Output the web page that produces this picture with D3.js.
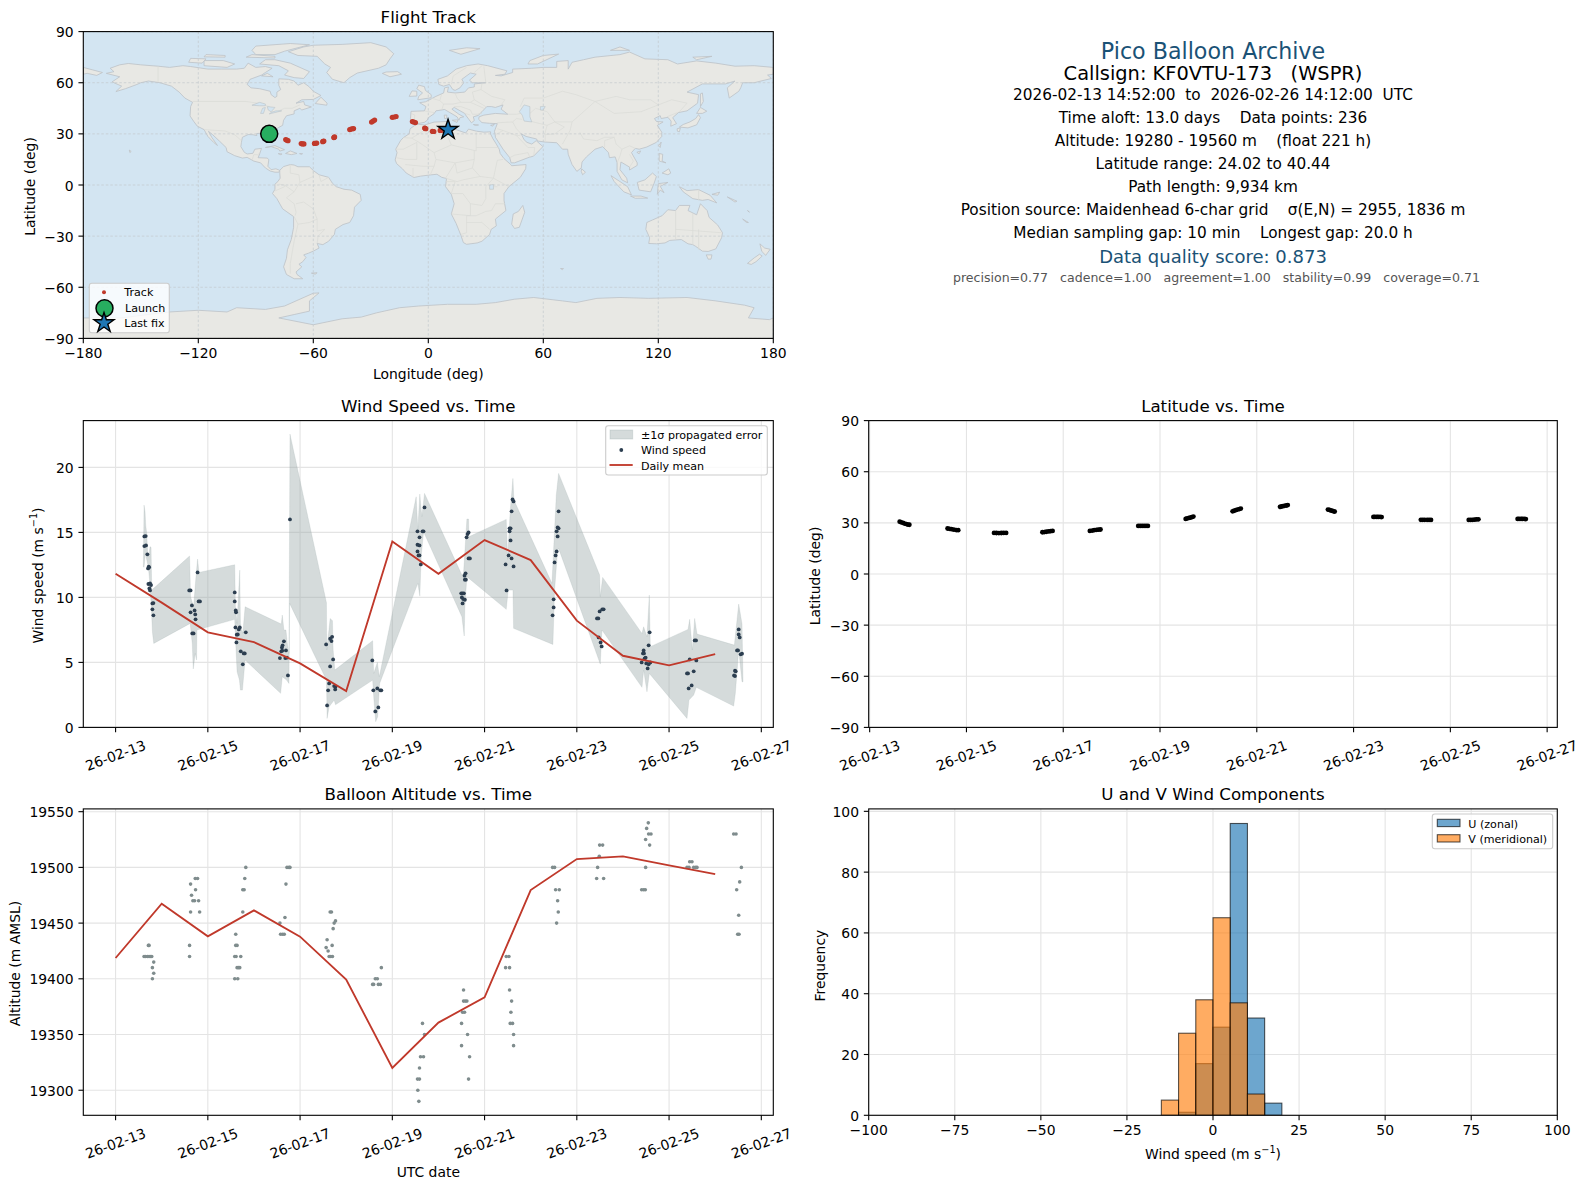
<!DOCTYPE html>
<html>
<head>
<meta charset="utf-8">
<script src="https://cdn.jsdelivr.net/npm/d3@7"></script>
<style>
  html, body { margin: 0; padding: 0; background: #fff; }
  svg { display: block; font-family: "DejaVu Sans", sans-serif; }
  text { fill: #000; }
</style>
</head>
<body>
<svg id="fig" width="1587" height="1189"></svg>
<script>
// ---- flight track (lon, lat)
const trackPoints = [[-74.4,26.7],[-73.8,26.3],[-73.2,26],
  [-66.3,24.3],[-65.6,24.1],[-64.9,24.1],[-59.4,24.4],[-58.8,24.5],[-58.2,24.6],
  [-55.1,25.4],[-54.8,25.6],[-54.5,25.8],[-49.3,27.8],[-49.1,28],[-48.9,28.2],
  [-41,32.5],[-40.3,32.8],[-39.6,33],[-39,33.1],[-29.6,36.9],[-28.8,37.5],[-28,38.1],
  [-18.8,39.7],[-17.8,39.9],[-16.8,40.2],[-8.3,37.2],[-7.5,36.9],[-6.7,36.6],
  [-1.9,33.4],[-1.6,33.2],[-1.3,33],[2.1,31.5],[2.5,31.4],[2.9,31.4],[6.2,32],[6.5,32],[6.8,32.1]];
const launchPoint = [-83, 30];
const lastFixPoint = [10.3, 32.4];

// ---- wind speed scatter (days since 26-02-13 00:00, m/s)
const windPoints = [
  [.624,14.69],[.653,14.72],[.624,13.95],[.660,14.0],[.689,13.31],[.718,12.36],[.704,12.23],[.726,12.31],[.711,11.03],[.747,11.08],[.769,10.95],[.733,10.69],[.747,10.54],[.798,9.54],[.820,9.56],[.798,9.08],[.820,8.62],
  [1.597,10.54],[1.626,10.54],[1.655,9.38],[1.626,8.85],[1.713,9.0],[1.727,8.69],[1.734,8.31],[1.662,7.23],[1.691,7.23],[1.778,11.92],[1.80,9.69],[1.829,9.69],
  [2.583,10.38],[2.583,9.69],[2.605,9.0],[2.612,8.85],[2.598,7.69],[2.692,7.69],[2.671,7.54],[2.627,7.13],[2.649,7.15],[2.62,6.54],[2.714,5.85],[2.779,5.69],[2.801,5.69],[2.758,4.85],[2.823,7.31],
  [3.650,6.62],[3.621,6.31],[3.607,6.15],[3.592,5.85],[3.614,5.90],[3.694,5.92],[3.563,5.33],[3.679,5.33],[3.716,5.36],[3.737,4.0],[3.781,16.0],
  [4.565,6.38],[4.652,6.82],[4.695,6.97],[4.681,6.64],[4.717,5.23],[4.652,4.69],[4.630,3.38],[4.608,2.85],[4.586,1.69],[4.739,3.18],[4.768,3.13],[4.761,2.92],
  [5.566,5.15],[5.588,2.85],[5.675,3.0],[5.740,2.85],[5.762,2.85],[5.697,1.54],[5.631,1.23],
  [6.546,15.08],[6.654,15.08],[6.676,15.08],[6.589,14.62],[6.546,14.05],[6.589,14.0],[6.546,13.54],[6.567,13.23],[6.589,13.23],[6.618,12.54],[6.698,16.92],
  [7.494,10.31],[7.523,10.31],[7.552,10.31],[7.508,10.0],[7.537,9.87],[7.573,9.82],[7.523,9.54],[7.573,11.36],[7.595,11.36],[7.566,11.67],[7.588,11.85],[7.610,14.62],[7.631,14.87],[7.653,15.0],[7.653,13.0],[7.682,13.0],
  [8.477,10.54],[8.456,12.54],[8.521,13.23],[8.586,13.0],[8.629,12.38],[8.564,14.38],[8.542,15.08],[8.542,15.31],[8.564,15.31],[8.586,16.62],[8.607,17.54],[8.629,17.38],
  [9.497,9.85],[9.497,9.23],[9.475,8.62],[9.518,12.69],[9.540,13.23],[9.562,13.54],[9.584,14.69],[9.562,15.08],[9.584,15.38],[9.605,15.31],[9.605,16.62],
  [10.437,8.38],[10.466,8.38],[10.495,8.92],[10.552,9.08],[10.581,9.08],[10.473,6.92],[10.516,6.54],[10.538,6.23],
  [11.406,5.0],[11.435,5.69],[11.456,5.69],[11.449,5.92],[11.492,5.36],[11.471,5.31],[11.507,4.92],[11.557,4.85],[11.536,4.54],[11.594,5.0],[11.557,6.31],[11.579,7.31],
  [12.389,4.15],[12.411,4.15],[12.447,5.23],[12.534,4.31],[12.591,5.15],[12.490,3.23],[12.425,3.0],[12.555,6.69],[12.584,6.69],
  [13.510,7.54],[13.510,7.15],[13.531,6.92],[13.474,5.92],[13.495,5.92],[13.553,5.62],[13.582,5.67],[13.430,4.36],[13.445,4.31],[13.409,4.0],[13.430,3.95]];

// ---- propagated error band, edges read separately
const bandUpper = [[.602,12.36],[.617,17.10],[.639,16.59],[.653,15.56],[.675,14.92],[.697,13.38],[.718,13.13],[.747,13.90],[.769,13.85],[.784,10.56],
  [1.604,13.18],[1.626,10.05],[1.691,9.28],[1.749,11.85],[1.778,12.95],[1.807,11.92],[2.583,12.51],[2.598,9.28],[2.634,8.0],[2.692,12.10],[2.707,8.0],[2.758,7.23],[2.808,9.28],
  [3.592,7.95],[3.614,8.64],[3.650,7.49],[3.694,7.49],[3.723,6.46],[3.759,5.69],[3.781,22.56],[4.572,9.59],[4.579,5.95],[4.652,8.38],[4.702,8.21],[4.717,5.95],[4.753,4.41],
  [5.573,6.67],[5.595,4.15],[5.675,5.0],[5.718,3.90],[6.517,17.74],[6.553,15.18],[6.596,17.95],[6.640,16.21],[6.698,18.0],
  [7.508,11.72],[7.544,11.85],[7.617,16.03],[7.653,16.03],[7.66,14.67],[8.470,16.0],[8.499,12.92],[8.557,16.72],[8.615,19.15],[8.636,17.49],
  [9.461,11.08],[9.555,17.87],[9.605,19.54],[10.495,11.72],[10.509,10.05],[10.560,11.54],[11.413,7.23],[11.449,7.74],[11.521,6.97],[11.572,10.18],[11.594,6.21],
  [12.411,7.54],[12.447,8.31],[12.505,5.95],[12.555,8.38],[12.606,7.18],[13.416,6.33],[13.510,9.49],[13.582,7.95],[13.604,3.51]];
const bandLower = [[.602,12.36],[.617,12.31],[.646,13.38],[.711,12.31],[.747,10.95],[.776,9.15],[.798,7.36],[.827,6.46],
  [1.618,8.0],[1.662,6.46],[1.684,4.49],[1.727,5.69],[1.756,5.18],[1.763,7.49],[2.583,8.31],[2.605,6.46],[2.634,4.28],[2.685,3.64],[2.707,2.87],[2.750,2.87],[2.808,5.18],
  [3.578,2.62],[3.614,3.90],[3.708,3.64],[3.759,3.38],[3.774,9.54],[4.572,3.64],[4.586,.69],[4.630,1.59],[4.739,2.10],[4.768,1.74],
  [5.573,3.64],[5.602,2.10],[5.639,.44],[5.682,.82],[5.725,3.38],[6.553,11.08],[6.596,10.10],[6.626,13.13],[6.677,15.05],
  [7.508,8.51],[7.559,7.03],[7.573,9.28],[7.617,11.59],[8.470,9.08],[8.513,10.56],[8.615,10.56],[8.629,7.62],[9.482,6.38],[9.518,10.56],[9.584,13.64],[9.605,13.77],
  [10.509,4.87],[10.545,7.49],[11.413,3.08],[11.449,4.41],[11.521,2.74],[11.572,4.15],[12.389,.69],[12.432,2.10],[12.534,2.49],[12.591,3.08],
  [13.401,1.64],[13.437,2.62],[13.510,5.95],[13.582,3.51],[13.604,3.51]];

const meanDays = [0,1,2,3,4,5,6,7,8,9,10,11,12,13];
const windDaily = [11.82,9.6,7.31,6.56,4.92,2.79,14.31,11.82,14.41,12.87,8.21,5.51,4.77,5.64];
const altDaily = [19418.7,19467.4,19438.1,19461.4,19437.8,19399.3,19320,19360.7,19383.4,19479.7,19507.5,19509.9,19501.8,19494];

// ---- latitude vs time
const latPoints = [
  [.62,30.7],[.65,30.3],[.69,30],[.72,29.6],[.76,29.3],[.79,29],[.82,28.9],
  [1.61,26.7],[1.65,26.5],[1.69,26.3],[1.74,26],[1.79,25.8],[1.83,25.7],
  [2.57,24.1],[2.62,24.05],[2.67,24.02],[2.72,24.05],[2.77,24.1],[2.82,24.1],
  [3.57,24.5],[3.61,24.6],[3.65,24.8],[3.7,25],[3.74,25.1],[3.78,25.3],
  [4.55,25.3],[4.6,25.5],[4.64,25.7],[4.69,25.9],[4.73,26],[4.77,26.1],
  [5.55,28.2],[5.59,28.2],[5.63,28.2],[5.67,28.2],[5.71,28.2],[5.75,28.2],
  [6.53,32.3],[6.56,32.6],[6.6,32.9],[6.63,33.1],[6.66,33.4],[6.69,33.7],
  [7.5,36.8],[7.53,37.1],[7.57,37.5],[7.6,37.8],[7.64,38.1],[7.67,38.4],
  [8.48,39.4],[8.51,39.6],[8.54,39.8],[8.57,40],[8.61,40.2],[8.64,40.44],
  [9.47,37.8],[9.5,37.6],[9.53,37.3],[9.56,37],[9.59,36.8],[9.61,36.6],
  [10.41,33.5],[10.44,33.5],[10.48,33.5],[10.51,33.5],[10.55,33.5],[10.58,33.4],
  [11.39,31.8],[11.43,31.8],[11.47,31.8],[11.52,31.8],[11.56,31.8],[11.6,31.7],
  [12.38,31.7],[12.42,31.7],[12.46,31.8],[12.5,31.9],[12.54,32],[12.58,32.1],
  [13.39,32.3],[13.42,32.3],[13.46,32.3],[13.49,32.3],[13.53,32.3],[13.56,32.2]];

// ---- altitude vs time (days, m)
const altPoints = [
  [.726,19430],[.711,19430],[.617,19420],[.653,19420],[.689,19420],[.726,19420],[.762,19420],[.784,19420],[.827,19415],[.798,19410],[.827,19405],[.798,19400],
  [1.604,19430],[1.604,19420],[1.626,19485],[1.647,19475],[1.626,19460],[1.734,19480],[1.676,19470],[1.713,19470],[1.80,19470],[1.727,19490],[1.778,19490],[1.822,19460],
  [2.605,19440],[2.605,19430],[2.634,19430],[2.583,19420],[2.612,19420],[2.714,19420],[2.634,19410],[2.663,19410],[2.692,19410],[2.583,19400],[2.649,19400],[2.758,19460],[2.758,19480],[2.787,19480],[2.801,19490],[2.823,19500],
  [3.563,19450],[3.578,19440],[3.621,19440],[3.657,19440],[3.672,19455],[3.694,19485],[3.716,19500],[3.759,19500],[3.781,19500],
  [4.586,19435],[4.565,19428],[4.608,19425],[4.695,19430],[4.63,19420],[4.666,19420],[4.702,19420],[4.717,19445],[4.739,19450],[4.768,19452],[4.652,19460],[4.681,19460],
  [5.762,19410],[5.631,19400],[5.675,19400],[5.573,19395],[5.595,19395],[5.697,19395],[5.740,19395],
  [6.654,19360],[6.698,19350],[6.611,19330],[6.676,19330],[6.589,19320],[6.546,19310],[6.589,19310],[6.553,19300],[6.575,19290],
  [7.544,19390],[7.544,19380],[7.581,19380],[7.617,19380],[7.523,19370],[7.566,19370],[7.501,19360],[7.631,19350],[7.501,19340],[7.675,19330],[7.653,19310],
  [8.470,19420],[8.528,19420],[8.456,19410],[8.542,19410],[8.542,19390],[8.586,19380],[8.571,19370],[8.557,19360],[8.607,19360],[8.629,19350],[8.629,19340],
  [9.475,19500],[9.518,19500],[9.54,19480],[9.62,19480],[9.584,19470],[9.598,19460],[9.562,19450],
  [10.495,19520],[10.56,19520],[10.487,19510],[10.451,19500],[10.43,19490],[10.581,19490],
  [11.55,19540],[11.514,19535],[11.557,19530],[11.608,19530],[11.492,19525],[11.579,19520],[11.492,19500],[11.406,19480],[11.449,19480],[11.485,19480],
  [12.447,19505],[12.497,19505],[12.389,19500],[12.432,19500],[12.534,19500],[12.577,19500],[12.606,19500],
  [13.401,19530],[13.452,19530],[13.568,19500],[13.531,19487],[13.466,19480],[13.510,19457],[13.488,19440],[13.517,19440]];

// ---- U / V histogram (bin start, count), 5 m/s bins
const binWidth = 5;
const uBins = [[-10,1],[-5,17],[0,29],[5,96],[10,32],[15,4]];
const vBins = [[-15,5],[-10,27],[-5,38],[0,65],[5,37],[10,7]];

// ---- axis ticks and text
const dateTicks = ['2026-02-13','2026-02-15','2026-02-17','2026-02-19','2026-02-21','2026-02-23','2026-02-25','2026-02-27'];
const lonTicks = [-180,-120,-60,0,60,120,180];
const latTicks = [-90,-60,-30,0,30,60,90];
const windTicks = [0,5,10,15,20];
const altTicks = [19300,19350,19400,19450,19500,19550];
const histXTicks = [-100,-75,-50,-25,0,25,50,75,100];
const histYTicks = [0,20,40,60,80,100];
const infoLines = [
  'Pico Balloon Archive',
  'Callsign: KF0VTU-173   (WSPR)',
  '2026-02-13 14:52:00  to  2026-02-26 14:12:00  UTC',
  'Time aloft: 13.0 days    Data points: 236',
  'Altitude: 19280 - 19560 m    (float 221 h)',
  'Latitude range: 24.02 to 40.44',
  'Path length: 9,934 km',
  'Position source: Maidenhead 6-char grid    σ(E,N) = 2955, 1836 m',
  'Median sampling gap: 10 min    Longest gap: 20.0 h',
  'Data quality score: 0.873',
  'precision=0.77   cadence=1.00   agreement=1.00   stability=0.99   coverage=0.71'
];

// ---- base map outlines (lon, lat)
const landAreas = [
  // North America
  [[-168,65.5],[-164,66.5],[-166,68.5],[-161,70.5],[-156.5,71.3],[-150,70.5],[-141,69.7],[-135,69],[-128,70],[-124,69.5],[-115,68],[-108,68],[-100,68],[-96,68.5],[-94,71.5],[-90,69],[-85,69.5],[-81.5,68.5],[-85,66],[-87,64.5],[-93,62],[-94.5,59],[-92.5,57],[-88,56.5],[-82.5,55],[-82,53],[-80,51.3],[-79,52],[-79,54.5],[-77,56],[-78,58.5],[-78,62.3],[-73,62],[-70,61],[-68,58.5],[-65,60],[-62,57.5],[-60,55],[-56,52.5],[-60,50.2],[-66,50],[-69,48],[-65,49],[-64.5,47],[-61,45.8],[-66,44],[-67,45],[-70,43.5],[-70,41.7],[-74,40.6],[-75.5,38],[-76,35],[-78,33.8],[-81,31.5],[-81.2,29.5],[-80,26.8],[-80.5,25.2],[-81.8,26],[-82.8,28],[-84,30],[-86,30.4],[-89.5,30.2],[-89.5,29],[-91.5,29.5],[-94,29.6],[-97,28],[-97.5,25],[-97.8,22.5],[-96,19.2],[-94.5,18.2],[-91.5,18.6],[-90.5,21],[-87,21.5],[-88,18.2],[-88.8,16],[-84,15.8],[-83.2,14.8],[-83.7,11],[-82,9],[-79.5,9.5],[-77.5,8.6],[-78,7.5],[-80,7.5],[-82.5,8.2],[-85,10],[-87.5,13],[-91,14],[-94.5,16.2],[-97,15.8],[-101,17.2],[-105,19.5],[-105.5,22],[-109,25.8],[-112.5,29.5],[-114.7,31.5],[-113,28],[-110,23.2],[-112,25],[-115,28.5],[-117,32.5],[-120.5,34.5],[-122.5,37.5],[-124.3,40.5],[-124,46],[-123,48.5],[-127,51],[-130,54.5],[-134,58],[-140,60],[-146,61],[-150,60],[-152,59],[-158,56.5],[-163,54.8],[-160,58],[-165,60.5],[-161,63.5]],
  // Arctic Canada
  [[-80,73.5],[-72,71.5],[-67,69],[-62,66.5],[-65,62.5],[-70,63],[-75,64.5],[-73,67],[-78,70],[-88,71],[-85,73.5]],
  [[-117,70],[-105,69],[-101,71],[-107,73],[-117,73]],
  [[-125,72],[-118,71.5],[-116,74],[-124,74.3]],
  [[-90,76.5],[-80,76.5],[-75,78.5],[-62,82.3],[-72,83],[-90,81.5],[-92,79]],
  [[-95,75],[-80,74.5],[-80,75.5],[-92,76.5]],
  [[-117,75.2],[-106,75],[-106,76],[-116,76.5]],
  [[-87,64],[-81,63.5],[-84,65.5]],
  [[-59,47.8],[-53,46.8],[-52.8,48],[-56,51.5]],
  // Caribbean and Pacific islands
  [[-85,22],[-80,23.1],[-75,20.7],[-77.5,19.9],[-78,21],[-82,22.5]],
  [[-74.5,18.5],[-72,20],[-68.5,18.5],[-71.5,17.8]],
  [[-78.3,18.4],[-76.3,18.2],[-77,17.8]],
  [[-67.2,18.4],[-65.6,18.4],[-66,18]],
  [[-156,20.5],[-155,19.7],[-155.7,19]],
  // Greenland, Iceland
  [[-73,78.2],[-68,76],[-58,75.5],[-54,71],[-51,69],[-53,66],[-50,62],[-44,60],[-41,63],[-37,65.7],[-26,68.5],[-22,70.5],[-20,74],[-18,77],[-22,81],[-30,83.5],[-45,82.5],[-60,82],[-65,81]],
  [[-24,65.5],[-20,63.5],[-14,65],[-16,66.5],[-22,66.3]],
  // South America
  [[-77.5,8.6],[-75.5,10.8],[-72,12],[-70,11.7],[-68,10.7],[-62,10.7],[-60,8.5],[-57,6],[-52,4.5],[-50,1],[-48,-1],[-44,-2.5],[-40,-3],[-35.5,-5.5],[-35,-9],[-38.5,-13],[-39,-18],[-41,-22],[-44.5,-23.2],[-48.5,-26],[-49,-29],[-52,-33],[-55,-35],[-58,-34.3],[-57,-37],[-60,-38.8],[-62.5,-40],[-65,-41],[-63.8,-42.5],[-65.5,-45],[-67.5,-46.5],[-66,-48],[-69,-51],[-68.5,-52.5],[-65.5,-55],[-70,-55],[-74,-52.5],[-75.5,-48],[-74,-43],[-73.5,-38],[-71.5,-32],[-70.3,-25],[-70.3,-18.5],[-76,-14],[-79,-8],[-81.3,-5],[-80,-2.5],[-80,0.5],[-78.5,2],[-77.3,4],[-77.5,7]],
  [[-61,-51.7],[-58,-51.5],[-59,-52.3]],
  // Africa
  [[-6,35.8],[-2,35.2],[3,36.9],[10,37.3],[11,33.5],[15,32.3],[19.5,30.5],[21,32.8],[25,31.6],[29,31],[32.5,31.2],[32.5,29.9],[33.8,27],[35.5,24],[37,21],[37.5,18.5],[39.5,15.5],[43,12],[43.5,11.3],[51,12],[50.8,9.5],[48,4.5],[42,-1],[39.5,-5],[39.5,-9],[40.5,-15],[35,-20],[35.5,-24],[32.8,-26],[32,-29],[28,-33],[25.5,-34],[20,-34.8],[18.3,-33.8],[17,-29.5],[14.5,-22.5],[12,-17],[13.5,-11],[12,-5.5],[9,-1],[9.5,3.8],[7,4.5],[4.5,6.3],[1,5.9],[-4,5.2],[-7.5,4.4],[-11.5,7],[-13.5,9.5],[-16.5,12.5],[-17.3,14.7],[-16.3,19],[-17,21],[-14.5,26],[-13,27.8],[-10,30],[-9.5,33]],
  [[49.3,-12],[50.3,-16],[47.5,-24.8],[45,-25.5],[43.5,-23],[44.3,-17],[47,-15.5]],
  // Eurasia
  [[-9,37],[-9.3,39],[-9,43.2],[-2,43.5],[-1.2,46],[-4.5,48.3],[-1.5,48.8],[1.5,50.5],[4,52],[8,54],[8.5,57],[10.5,57.5],[10,54.5],[14,54],[19,54.5],[21,57],[24,57.5],[24,59.3],[30,60],[23,60],[21.5,61.5],[25,65],[22,65.7],[17.5,62],[18.5,60],[16.5,57],[14,55.5],[12.8,56],[11,59],[8,58],[5.5,59],[5,62],[10,64],[14.5,68],[20,70],[26,71],[31,70],[41,67],[40,65],[35,64.3],[38,64],[44,66],[44,68],[54,68.5],[60,69],[67,69],[67,72.5],[73,73],[73,68],[75,72],[81,73.5],[87,75],[100,76.5],[105,78],[113,74],[125,73.5],[130,71],[140,72.8],[150,71.5],[160,69.7],[170,70],[180,69],[180,65],[177,64.5],[179,62.5],[170,60],[164,60],[163,57],[162,55],[157,51],[156,57],[160,61],[155,59.3],[143,59.3],[135,54.5],[141,53],[140.5,48],[135,43.5],[130.5,42.5],[127.5,39.5],[129.5,36],[126.5,34.5],[126.7,37.5],[125,39.7],[121.5,39],[121,40.7],[118,39],[119,37.3],[122.5,37],[119.5,35],[121.8,31],[121.8,28.5],[119,25],[114,22.3],[110,21],[108,21.5],[106,19],[109,13],[109,11.5],[105,8.8],[105,10.5],[100.5,13.5],[100,9],[103.5,4],[104,1.3],[101,3],[98.5,8],[98.5,13],[97.5,16.5],[94.5,16],[94,19],[91,22.5],[87,21],[82.5,16.5],[80.2,13.5],[79.8,10],[77.5,8],[75,12],[73,18],[72.7,21],[70,21],[67,24.8],[61,25.2],[57,25.8],[56.5,27],[51,28.5],[48.5,30],[50,26.5],[51.5,25],[54,24],[56.3,26],[59.8,22.5],[55,17],[52,16],[45,13],[43.2,13],[42.5,16],[39,21],[35,28],[34.9,29.5],[34.5,31.5],[36,36],[32,36.2],[28,36.6],[26.3,38.5],[26.5,40],[29,41],[35,42],[41.5,41.5],[38,44.5],[39,47],[35,45.5],[33,46],[30.5,46],[28,43],[26,40.8],[23.5,40],[24,37.8],[22.5,36.5],[19.5,41],[19,42],[13.5,45.5],[12.3,44.5],[16,41.5],[18.5,40],[16.5,39.5],[16,38],[15,40],[10.5,43],[8.5,44.3],[4,43.5],[3,41.8],[0,39.5],[-0.5,38],[-2,36.8],[-5.5,36]],
  [[-180,69],[-175,67.5],[-170,66],[-173,64.3],[-178,65.5],[-180,65]],
  // European and Arctic islands
  [[-5.5,50],[1.5,51.2],[1.5,53],[-1.5,55.5],[-2,57.7],[-5,58.6],[-6,56.5],[-3,54],[-5,52]],
  [[-10,52],[-6,52.2],[-6,55],[-8.5,55.2]],
  [[11,79],[20,80.5],[27,80],[17,76.7]],
  [[52,71],[57,71],[68,76.8],[60,76],[53,73]],
  [[95,79],[105,79],[100,81]],
  [[138,75],[148,75.5],[140,73.5]],
  [[8.3,41],[9.7,41],[9.5,39],[8.5,39]],
  [[12.5,38],[15.5,38.2],[15,36.7]],
  [[23.5,35.5],[26.2,35.2],[24.5,35]],
  [[32.5,35],[34.5,35.6],[33.5,34.6]],
  // East and South-East Asia
  [[131,34],[135.5,33.5],[140,35.3],[142,39.5],[141,41.3],[139.5,39],[136.5,37],[133,35.5]],
  [[140,42],[143,42],[145.3,43.3],[142,45.5]],
  [[129.8,33],[131.5,33.5],[131,31.2],[130,31.5]],
  [[142,46],[143.5,49],[143,54],[142,53.5],[142,48]],
  [[120.2,23],[121.5,25.2],[121,22]],
  [[108.8,19.2],[110.8,20],[110,18.3]],
  [[80,9.5],[82,7.5],[80.5,6],[79.8,8]],
  [[120.5,18.5],[122.3,18],[122,14],[124,13],[120.5,14]],
  [[122,7],[125.5,9.5],[126.5,7],[125,6]],
  [[109,1.5],[113,3],[117,7],[119,5],[117.8,1],[116,-4],[110,-3]],
  [[95.3,5.5],[100,2],[104,-1],[106,-5.8],[102,-4],[97,2]],
  [[105.5,-6.5],[111,-6.5],[114.5,-7.7],[108,-7.8]],
  [[119.5,-5.5],[120,0.8],[125,1.5],[121,-0.8],[123,-4.5],[121,-3]],
  [[131,-1],[135,-3.3],[141,-2.7],[147,-6],[150.5,-10.5],[146,-8.5],[143,-9],[138,-8],[133,-4]],
  [[148,-5.5],[152,-4.2],[151,-6]],
  [[156,-7],[161,-9.5],[160,-10]],
  [[166.5,-15],[167.5,-16],[167,-15.2]],
  [[164,-20],[167,-22],[166,-22]],
  // Australia and New Zealand
  [[114,-22],[117,-20.5],[122,-18],[125,-14.5],[129,-15],[131,-12],[136.5,-12],[135.5,-15],[140,-17.5],[142,-11],[145.5,-15],[146.5,-19],[151,-23.5],[153.5,-28],[153,-31],[150,-37.5],[146,-39],[143,-38.8],[139.5,-36],[138,-35],[135.5,-34.5],[132,-32],[126,-32.5],[123.5,-34],[119,-34.5],[115,-34.3],[115.5,-31],[113.5,-26]],
  [[145,-41],[148,-41],[147.5,-43.5],[146,-43.5]],
  [[173,-34.5],[175.5,-37],[178.4,-37.7],[176,-41.3],[175,-40],[174,-39]],
  [[172.8,-40.6],[174.2,-41.7],[171,-45],[168.5,-46.6],[166.5,-46],[170,-42.8]],
  [[69,-49],[70.5,-49],[70,-49.7]],
  // Antarctica
  [[-180,-90],[-180,-78],[-160,-78],[-150,-76.5],[-135,-74.5],[-120,-73.5],[-105,-74.5],[-100,-72],[-85,-73],[-75,-71],[-68,-67.5],[-60,-63.5],[-57,-63.3],[-62,-68],[-62,-74],[-70,-76],[-78,-78],[-60,-82],[-45,-78.5],[-35,-77.5],[-27,-75],[-15,-72],[-5,-71],[10,-70],[25,-70],[35,-69],[45,-67],[55,-66],[70,-68],[77,-69],[88,-66.5],[100,-66],[115,-66.5],[135,-66],[150,-68],[165,-70.5],[170,-72],[167,-78],[178,-79],[180,-78],[180,-90]]
];
const inlandWater = [
  [[50,47],[53,46],[53,40],[54,37],[50,37.5],[49,41],[47.5,43]],
  [[-92,46.8],[-88,48.5],[-85,47.5],[-85,46.5],[-88,46.5]],
  [[-87.5,42],[-86.5,45],[-85,45.5],[-86,42]],
  [[-84,46],[-80,45.5],[-82,43],[-83.5,44]],
  [[-83,41.7],[-79,42.8],[-76.5,43.5],[-79.5,43.5],[-82,42.5]],
  [[32,0],[34,0.3],[34,-2.5],[32,-2.5]],
  [[58.5,46],[61,46],[60,44],[58.5,44]]
];
const borderLines = [
  [[-123,49],[-95,49],[-89,48],[-83,46],[-82,43],[-79,43],[-75,45],[-71,45],[-67,47]],
  [[-141,60.3],[-141,69.7]],[[-117,32.5],[-106,31.7],[-101,29.5],[-97.5,26]],
  [[-92,14.6],[-91,17.8],[-89,17.8],[-88.3,18.4]],
  [[-72,12],[-72,7],[-67.5,6],[-67,1.5],[-70,-4],[-74,-7.5],[-70,-11],[-69,-16],[-69.5,-18]],
  [[-67,1.5],[-60,5],[-60,8.5]],[[-78,0.5],[-75,0],[-70,-4]],[[-80,-3.5],[-75,-1],[-75,0]],
  [[-70,-18.5],[-68,-23],[-70,-33],[-72,-46],[-72,-52]],[[-68,-23],[-62,-22],[-58,-20],[-58,-27],[-54,-26],[-57.5,-30],[-58,-34.3]],
  [[-69,-11],[-65,-10],[-60,-14],[-58,-20]],[[-57,6],[-56,2],[-52,4.5]],
  [[-2,35.2],[-2,32],[-8.7,27.5],[-13,27.8]],[[-8.7,27.5],[-4.8,25],[3,19],[12,23.5],[9.5,30],[10,37]],[[12,23.5],[25,20],[25,31.6]],[[25,22],[36.8,22]],
  [[-17,21],[-13,21],[-6,25],[-6,15],[-12,15],[-16.5,16]],[[3,19],[4,15],[14,13],[24,15],[24,20]],[[4,15],[3,11],[1,5.9]],[[14,13],[9,4]],[[-8,10],[-8,4.5]],[[-12,12],[-3,11],[3,11]],
  [[24,15],[23,10],[27,5],[34,4],[36,14.5],[39,15]],[[34,4],[42,-1]],[[34,4],[30,-1],[30,-8],[28,-12],[22,-11],[22,-18],[12,-17]],[[12,-5],[18,-5],[22,-11]],[[36,-1],[34,-1]],[[40,-11],[35,-11],[33,-15],[30,-15.5],[25,-18],[20,-18],[20,-28],[17,-29]],[[20,-22],[28,-22],[32,-26]],[[23,10],[15,7],[14,13]],[[9,4],[15,2],[18,3],[27,5]],[[9,2],[14,2],[12,-5]],
  [[1.5,51],[6,49.5],[8,47.5],[7,44]],[[-1.8,43.4],[3,42.5]],[[-9,42],[-7,41],[-7.5,37]],[[7,53.5],[6,49.5]],[[14,54],[15,51],[17,48.5],[13,47.5],[8,47.5]],[[23,54.5],[24,50],[22,48.5],[17,48.5]],[[24,50],[30,46]],[[22,48.5],[29,45]],[[13.5,46],[17,46],[22,44],[23,41.5],[26,41.5]],[[19,42],[22,41]],
  [[28,59.5],[27.5,56],[23,54.5]],[[27.5,56],[33,52],[40,50],[38,47]],[[30,60],[29,69.5]],[[12,59],[13,64],[20,69]],[[24,66],[28,70]],[[48,46],[50,51],[60,51],[70,55],[77,53],[87,49]],[[53,42],[56,45],[62,43],[66,37]],[[53,37.5],[62,35],[66,37],[75,37]],[[62,35],[61,31],[61,25.2]],[[66,37],[71,34],[66,30],[61,29.5]],[[75,37],[74,32],[70,24]],[[79,31],[81,27],[88,26],[92,28],[97,28]],[[92,22],[92,26],[97,28],[98,24],[101,21],[100,17],[98.5,13]],[[101,21],[105,23],[108,21.5]],[[105,18],[107,14],[105,10.5]],[[87,49],[97,42],[111,43],[120,47],[116,50],[105,50],[98,52],[87,49]],[[120,47],[127,50],[135,48],[131,43]],[[75,37],[80,42],[87,49]],[[124.5,40],[130,42.5]],
  [[36,36.5],[44,37],[46,39],[49,38.5]],[[44,37],[46,33],[48.5,30]],[[36,33],[39,32],[46,29],[48,29]],[[35,29.5],[39,32]],[[46,29],[52,22],[55.5,22],[55,17]],[[42.5,16],[45,17.5],[52,19],[53,16]],[[41.5,41.5],[46,41.5],[48,42]],[[26,41.8],[28,42]],
  [[141,-2.7],[141,-9]],[[129,-15],[129,-32]],[[138,-16.5],[138,-35]],[[141,-26],[141,-38]],[[129,-26],[153,-28]]
];

// ---- layout, everything in px
const columns = { left: [83.3, 773.3], right: [868.7, 1557.3] };
const rows = [[31.6, 338.4], [420.6, 727.4], [808.9, 1115.3]];
const infoSizes = [22.2, 19.4, 15.3, 15.3, 15.3, 15.3, 15.3, 15.3, 15.3, 18, 12.57];
const infoColors = ['#1a5276', '#000', '#000', '#000', '#000', '#000', '#000', '#000', '#000', '#1a5276', '#555'];
const infoY = [50.9, 73.9, 94.8, 117.9, 141, 163.9, 187, 210, 233, 256.7, 277.5];
const day0 = Date.UTC(2026, 1, 13);
const toDate = d => new Date(day0 + d * 864e5);
const red = '#c0392b';

const svg = d3.select('#fig');
const defs = svg.append('defs');

function panel(id, col, row, xScale, yScale, opts) {
  const [x0, x1] = columns[col], [y0, y1] = rows[row];
  xScale.range([x0, x1]); yScale.range([y1, y0]);
  defs.append('clipPath').attr('id', 'clip-' + id).append('rect')
    .attr('x', x0).attr('y', y0).attr('width', x1 - x0).attr('height', y1 - y0);
  const root = svg.append('g').attr('class', 'panel-' + id);
  const under = root.append('g').attr('clip-path', `url(#clip-${id})`);
  const base = under.append('g');
  const grid = under.append('g');
  const marks = under.append('g');
  const top = root.append('g');

  // gridlines
  opts.xTicks.forEach(d => grid.append('line').attr('x1', xScale(d)).attr('x2', xScale(d)).attr('y1', y0).attr('y2', y1));
  opts.yTicks.forEach(d => grid.append('line').attr('x1', x0).attr('x2', x1).attr('y1', yScale(d)).attr('y2', yScale(d)));
  grid.selectAll('line').attr('stroke', opts.gridColor || '#e4e4e4').attr('stroke-width', opts.gridWidth || 1.1)
    .attr('stroke-dasharray', opts.gridDash || null);

  // axes
  const xAxis = d3.axisBottom(xScale).tickValues(opts.xTicks).tickSize(4.86).tickPadding(4.86).offset(0);
  if (opts.xFormat) xAxis.tickFormat(opts.xFormat);
  const gx = top.append('g').attr('transform', `translate(0,${y1})`).call(xAxis);
  const yAxis = d3.axisLeft(yScale).tickValues(opts.yTicks).tickSize(4.86).tickPadding(4.86).offset(0);
  if (opts.yFormat) yAxis.tickFormat(opts.yFormat);
  const gy = top.append('g').attr('transform', `translate(${x0},0)`).call(yAxis);
  [gx, gy].forEach(g => {
    g.select('.domain').remove();
    g.attr('font-family', null).attr('font-size', 13.9);
    g.selectAll('line').attr('stroke', '#000').attr('stroke-width', 1.1);
    g.selectAll('text').attr('fill', '#000');
  });
  gy.selectAll('text').attr('dy', '0.4em');
  if (opts.rotateX) {
    gx.selectAll('text').attr('y', null).attr('dy', null)
      .attr('dominant-baseline', 'central')
      .attr('transform', 'translate(0,28) rotate(-20)');
  }

  // spines
  top.append('rect').attr('x', x0).attr('y', y0).attr('width', x1 - x0).attr('height', y1 - y0)
    .attr('fill', 'none').attr('stroke', '#000').attr('stroke-width', 1.1);

  // title and labels
  top.append('text').attr('x', (x0 + x1) / 2).attr('y', y0 - 8.6).attr('text-anchor', 'middle')
    .attr('font-size', 16.67).text(opts.title);
  if (opts.xLabel) {
    addLabel(top.append('text').attr('x', (x0 + x1) / 2).attr('y', opts.xLabelY).attr('dominant-baseline', 'central')
      .attr('text-anchor', 'middle').attr('font-size', 13.9), opts.xLabel);
  }
  if (opts.yLabel) {
    const cy = (y0 + y1) / 2 + (opts.yLabelShift || 1.5);
    addLabel(top.append('text').attr('text-anchor', 'middle').attr('dominant-baseline', 'central').attr('font-size', 13.9)
      .attr('transform', `translate(${opts.yLabelX},${cy}) rotate(-90)`), opts.yLabel);
  }
  return { base, marks, top };
}

// "m s-1" gets a real superscript
function addLabel(node, label) {
  const parts = label.split('^');
  if (parts.length === 1) { node.text(label); return; }
  node.append('tspan').text(parts[0]);
  node.append('tspan').attr('font-size', 9.7).attr('dy', -5).text('−1');
  node.append('tspan').attr('dy', 5).text(parts[1]);
}

function legendBox(g, x, y, w, h) {
  g.append('rect').attr('x', x).attr('y', y).attr('width', w).attr('height', h).attr('rx', 2.5)
    .attr('fill', '#fff').attr('fill-opacity', 0.8).attr('stroke', '#ccc').attr('stroke-width', 1.1);
}
function legendText(g, x, y, label) {
  g.append('text').attr('x', x).attr('y', y).attr('dominant-baseline', 'central').attr('font-size', 11.1).text(label);
}

// ---- Flight Track
{
  const x = d3.scaleLinear().domain([-180, 180]);
  const y = d3.scaleLinear().domain([-90, 90]);
  const { base, top } = panel('map', 'left', 0, x, y, {
    title: 'Flight Track', xTicks: lonTicks, yTicks: latTicks, xLabel: 'Longitude (deg)', xLabelY: 373.6,
    yLabel: 'Latitude (deg)', yLabelX: 30.4, gridColor: '#c3c9cd', gridWidth: 0.7, gridDash: '2.5,2'
  });
  const line = d3.line().x(d => x(d[0])).y(d => y(d[1]));
  const [x0, x1] = columns.left, [y0, y1] = rows[0];
  base.style('filter', 'blur(0.35px)');
  base.append('rect').attr('x', x0).attr('y', y0).attr('width', x1 - x0).attr('height', y1 - y0).attr('fill', '#d3e5f2');
  base.selectAll('.land').data(landAreas).join('path').attr('class', 'land')
    .attr('d', d => line(d) + 'Z').attr('fill', '#e8e8e4').attr('stroke', '#bcc2c6').attr('stroke-width', 0.8);
  base.selectAll('.border').data(borderLines).join('path').attr('class', 'border')
    .attr('d', line).attr('fill', 'none').attr('stroke', '#dadbd7').attr('stroke-width', 0.7);
  base.selectAll('.water').data(inlandWater).join('path').attr('class', 'water')
    .attr('d', d => line(d) + 'Z').attr('fill', '#d3e5f2').attr('stroke', '#bcc2c6').attr('stroke-width', 0.6);

  const over = top.append('g').attr('clip-path', 'url(#clip-map)');
  over.selectAll('circle.track').data(trackPoints).join('circle').attr('class', 'track')
    .attr('cx', d => x(d[0])).attr('cy', d => y(d[1])).attr('r', 2.6).attr('fill', red);
  over.append('circle').attr('cx', x(launchPoint[0])).attr('cy', y(launchPoint[1])).attr('r', 8.5)
    .attr('fill', '#27ae60').attr('stroke', '#000').attr('stroke-width', 1.5);
  over.append('path').attr('d', d3.symbol(d3.symbolStar, 124))
    .attr('transform', `translate(${x(lastFixPoint[0])},${y(lastFixPoint[1])})`)
    .attr('fill', '#1f77b4').attr('stroke', '#000').attr('stroke-width', 1.4);

  const lg = top.append('g');
  legendBox(lg, 89.3, 283.3, 80, 49.4);
  lg.append('circle').attr('cx', 104).attr('cy', 292.3).attr('r', 2).attr('fill', red);
  lg.append('circle').attr('cx', 104.5).attr('cy', 308.3).attr('r', 8.5).attr('fill', '#27ae60').attr('stroke', '#000').attr('stroke-width', 1.5);
  lg.append('path').attr('d', d3.symbol(d3.symbolStar, 124)).attr('transform', 'translate(104,323)')
    .attr('fill', '#1f77b4').attr('stroke', '#000').attr('stroke-width', 1.4);
  legendText(lg, 124.3, 292.8, 'Track');
  legendText(lg, 125, 308.8, 'Launch');
  legendText(lg, 124.3, 323.3, 'Last fix');
}

// ---- Info block
{
  const cx = d3.mean(columns.right);
  svg.append('g').selectAll('text').data(infoLines).join('text')
    .attr('x', (d, i) => i === 10 ? cx + 3.5 : cx).attr('y', (d, i) => infoY[i])
    .attr('text-anchor', 'middle').attr('dominant-baseline', 'central').style('white-space', 'pre')
    .attr('font-size', (d, i) => infoSizes[i]).style('fill', (d, i) => infoColors[i]).text(d => d);
}

const dateFmt = d3.utcFormat('%y-%m-%d');
const dateValues = dateTicks.map(s => new Date(s + 'T00:00:00Z'));

// ---- Wind Speed vs. Time
{
  const x = d3.scaleUtc().domain([toDate(-0.70), toDate(14.26)]);
  const y = d3.scaleLinear().domain([0, 23.6]);
  const { marks, top } = panel('wind', 'left', 1, x, y, {
    title: 'Wind Speed vs. Time', xTicks: dateValues, yTicks: windTicks, xFormat: dateFmt, rotateX: true,
    yLabel: 'Wind speed (m s^)', yLabelX: 37.5
  });
  const line = d3.line().x(d => x(toDate(d[0]))).y(d => y(d[1]));
  marks.append('path').attr('d', line(bandUpper.concat(bandLower.slice().reverse())) + 'Z')
    .attr('fill', '#95a5a6').attr('fill-opacity', 0.4).attr('stroke', '#95a5a6').attr('stroke-opacity', 0.3).attr('stroke-width', 0.6);
  marks.selectAll('circle').data(windPoints).join('circle')
    .attr('cx', d => x(toDate(d[0]))).attr('cy', d => y(d[1])).attr('r', 1.9).attr('fill', '#2c3e50');
  marks.append('path').attr('d', line(meanDays.map((d, i) => [d, windDaily[i]])))
    .attr('fill', 'none').attr('stroke', red).attr('stroke-width', 1.85);

  const lg = top.append('g');
  legendBox(lg, 605.7, 425.7, 161.6, 49.3);
  lg.append('rect').attr('x', 610).attr('y', 430).attr('width', 22.7).attr('height', 9)
    .attr('fill', '#95a5a6').attr('fill-opacity', 0.4).attr('stroke', '#95a5a6').attr('stroke-opacity', 0.3);
  lg.append('circle').attr('cx', 621.3).attr('cy', 450).attr('r', 1.9).attr('fill', '#2c3e50');
  lg.append('line').attr('x1', 609.5).attr('x2', 632.7).attr('y1', 465).attr('y2', 465).attr('stroke', red).attr('stroke-width', 1.85);
  legendText(lg, 641, 435.5, '±1σ propagated error');
  legendText(lg, 641, 450.3, 'Wind speed');
  legendText(lg, 641, 466, 'Daily mean');
}

// ---- Latitude vs. Time
{
  const x = d3.scaleUtc().domain([toDate(-0.02), toDate(14.21)]);
  const y = d3.scaleLinear().domain([-90, 90]);
  const { marks } = panel('lat', 'right', 1, x, y, {
    title: 'Latitude vs. Time', xTicks: dateValues, yTicks: latTicks, xFormat: dateFmt, rotateX: true,
    yLabel: 'Latitude (deg)', yLabelX: 815, yLabelShift: 2
  });
  marks.selectAll('circle').data(latPoints).join('circle')
    .attr('cx', d => x(toDate(d[0]))).attr('cy', d => y(d[1])).attr('r', 2.4).attr('fill', '#000');
}

// ---- Balloon Altitude vs. Time
{
  const x = d3.scaleUtc().domain([toDate(-0.70), toDate(14.26)]);
  const y = d3.scaleLinear().domain([19277.5, 19552.5]);
  const { marks } = panel('alt', 'left', 2, x, y, {
    title: 'Balloon Altitude vs. Time', xTicks: dateValues, yTicks: altTicks, xFormat: dateFmt, rotateX: true, yFormat: d3.format('d'),
    xLabel: 'UTC date', xLabelY: 1172, yLabel: 'Altitude (m AMSL)', yLabelX: 15.2
  });
  const line = d3.line().x(d => x(toDate(d[0]))).y(d => y(d[1]));
  marks.selectAll('circle').data(altPoints).join('circle')
    .attr('cx', d => x(toDate(d[0]))).attr('cy', d => y(d[1])).attr('r', 1.8).attr('fill', '#7f8c8d');
  marks.append('path').attr('d', line(meanDays.map((d, i) => [d, altDaily[i]])))
    .attr('fill', 'none').attr('stroke', red).attr('stroke-width', 1.85);
}

// ---- U and V Wind Components
{
  const x = d3.scaleLinear().domain([-100, 100]);
  const y = d3.scaleLinear().domain([0, 100.8]);
  const { marks, top } = panel('hist', 'right', 2, x, y, {
    title: 'U and V Wind Components', xTicks: histXTicks, yTicks: histYTicks,
    xLabel: 'Wind speed (m s^)', xLabelY: 1154, yLabel: 'Frequency', yLabelX: 820, yLabelShift: 3.5
  });
  const bars = (bins, color) => marks.append('g').selectAll('rect').data(bins).join('rect')
    .attr('x', d => x(d[0])).attr('width', d => x(d[0] + binWidth) - x(d[0]))
    .attr('y', d => y(d[1])).attr('height', d => y(0) - y(d[1]))
    .attr('fill', color).attr('fill-opacity', 0.65)
    .attr('stroke', '#000').attr('stroke-opacity', 0.65).attr('stroke-width', 1.1);
  bars(uBins, '#1f77b4');
  bars(vBins, '#ff7f0e');

  const lg = top.append('g');
  legendBox(lg, 1432.3, 814, 120.4, 34.7);
  [['U (zonal)', '#1f77b4', 819.3, 824.5], ['V (meridional)', '#ff7f0e', 834.7, 839.5]].forEach(r => {
    lg.append('rect').attr('x', 1437.3).attr('y', r[2]).attr('width', 22.7).attr('height', 7.3)
      .attr('fill', r[1]).attr('fill-opacity', 0.65).attr('stroke', '#000').attr('stroke-opacity', 0.65).attr('stroke-width', 1.1);
    legendText(lg, 1468.3, r[3], r[0]);
  });
}
</script>
</body>
</html>
